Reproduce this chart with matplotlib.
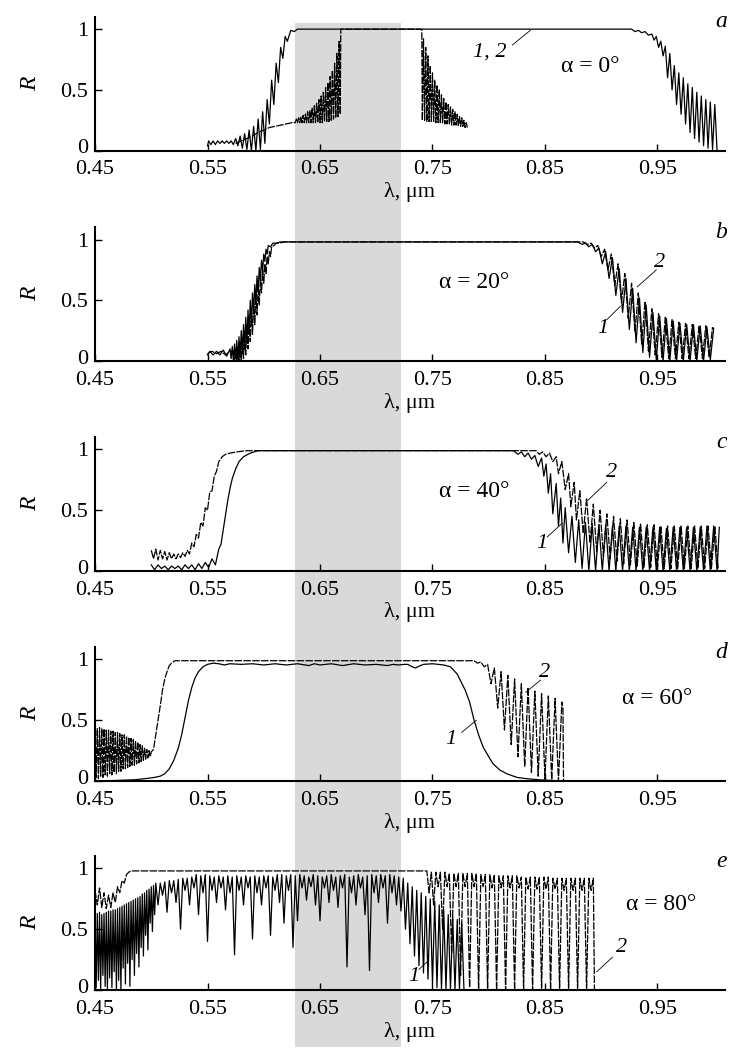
import matplotlib
matplotlib.use("Agg")
import matplotlib.pyplot as plt
import numpy as np
from matplotlib.patches import Rectangle
from matplotlib.transforms import blended_transform_factory, ScaledTranslation

plt.rcParams["font.family"] = ["Liberation Serif", "DejaVu Serif"]

# reflectance spectra, (wavelength um, R)
# curve 1 solid, curve 2 dashed
a1 = [(0.550, 0.04), (0.551, 0.08), (0.553, 0.05), (0.555, 0.08), (0.557, 0.05), (0.559, 0.08),
      (0.561, 0.06), (0.563, 0.08), (0.565, 0.06), (0.567, 0.08), (0.569, 0.06), (0.571, 0.08),
      (0.573, 0.05), (0.575, 0.10), (0.577, 0.04), (0.579, 0.12), (0.581, 0.02), (0.583, 0.14),
      (0.585, 0.01), (0.587, 0.17), (0.589, 0.00), (0.591, 0.20), (0.593, 0.00), (0.595, 0.26),
      (0.597, 0.01), (0.599, 0.32), (0.601, 0.06), (0.603, 0.42), (0.605, 0.22), (0.607, 0.58),
      (0.609, 0.38), (0.611, 0.72), (0.613, 0.56), (0.615, 0.85), (0.617, 0.76), (0.619, 0.94),
      (0.621, 0.90), (0.624, 0.99), (0.627, 0.98), (0.630, 1.00), (0.927, 1.00), (0.930, 0.98),
      (0.933, 0.99), (0.936, 0.97), (0.939, 0.98), (0.942, 0.95), (0.945, 0.96), (0.947, 0.91),
      (0.949, 0.94), (0.951, 0.85), (0.953, 0.90), (0.955, 0.78), (0.957, 0.86), (0.959, 0.60),
      (0.961, 0.80), (0.963, 0.50), (0.965, 0.70), (0.967, 0.38), (0.969, 0.64), (0.971, 0.30),
      (0.973, 0.60), (0.975, 0.22), (0.977, 0.55), (0.979, 0.15), (0.981, 0.52), (0.983, 0.10),
      (0.985, 0.48), (0.987, 0.07), (0.989, 0.45), (0.991, 0.04), (0.993, 0.42), (0.995, 0.02),
      (0.997, 0.40), (0.999, 0.01), (1.001, 0.38), (1.003, 0.00)]
a2 = [(0.575, 0.06), (0.580, 0.08), (0.585, 0.10), (0.590, 0.12), (0.595, 0.15), (0.600, 0.17),
      (0.605, 0.19), (0.610, 0.20), (0.615, 0.21), (0.620, 0.22), (0.625, 0.23), (0.628, 0.23),
      (0.629, 0.26), (0.630, 0.23), (0.631, 0.27), (0.632, 0.23), (0.633, 0.28), (0.634, 0.23),
      (0.635, 0.29), (0.636, 0.23), (0.637, 0.30), (0.638, 0.23), (0.639, 0.32), (0.640, 0.23),
      (0.641, 0.33), (0.642, 0.23), (0.643, 0.35), (0.644, 0.23), (0.645, 0.37), (0.646, 0.23),
      (0.647, 0.39), (0.648, 0.23), (0.649, 0.42), (0.650, 0.23), (0.651, 0.45), (0.652, 0.23),
      (0.653, 0.48), (0.654, 0.24), (0.655, 0.52), (0.656, 0.24), (0.657, 0.56), (0.658, 0.24),
      (0.659, 0.61), (0.660, 0.25), (0.661, 0.66), (0.662, 0.26), (0.663, 0.72), (0.664, 0.27),
      (0.665, 0.80), (0.666, 0.28), (0.667, 0.90), (0.668, 0.30), (0.6685, 1.00), (0.7405, 1.00),
      (0.741, 0.25), (0.742, 0.92), (0.743, 0.25), (0.744, 0.85), (0.745, 0.24), (0.746, 0.78),
      (0.747, 0.24), (0.748, 0.70), (0.749, 0.24), (0.750, 0.64), (0.751, 0.24), (0.752, 0.58),
      (0.753, 0.23), (0.754, 0.54), (0.755, 0.23), (0.756, 0.50), (0.757, 0.23), (0.758, 0.46),
      (0.759, 0.23), (0.760, 0.43), (0.761, 0.22), (0.762, 0.40), (0.763, 0.22), (0.764, 0.38),
      (0.765, 0.22), (0.766, 0.36), (0.767, 0.21), (0.768, 0.34), (0.769, 0.21), (0.770, 0.32),
      (0.771, 0.21), (0.772, 0.30), (0.773, 0.20), (0.774, 0.28), (0.775, 0.20), (0.776, 0.27),
      (0.777, 0.20), (0.778, 0.25), (0.779, 0.19), (0.780, 0.23), (0.781, 0.19)]

b1 = [(0.550, 0.05), (0.552, 0.08), (0.555, 0.05), (0.558, 0.08), (0.561, 0.05), (0.564, 0.09),
      (0.567, 0.04), (0.570, 0.10), (0.571, 0.02), (0.572, 0.12), (0.573, 0.00), (0.574, 0.14),
      (0.575, 0.02), (0.576, 0.17), (0.577, 0.00), (0.578, 0.20), (0.579, 0.03), (0.580, 0.25),
      (0.581, 0.06), (0.582, 0.30), (0.583, 0.10), (0.584, 0.36), (0.585, 0.15), (0.586, 0.42),
      (0.587, 0.22), (0.588, 0.50), (0.589, 0.30), (0.590, 0.56), (0.591, 0.40), (0.592, 0.63),
      (0.593, 0.48), (0.594, 0.70), (0.595, 0.58), (0.596, 0.77), (0.597, 0.66), (0.598, 0.83),
      (0.599, 0.74), (0.600, 0.88), (0.601, 0.82), (0.602, 0.92), (0.603, 0.88), (0.604, 0.95),
      (0.606, 0.94), (0.608, 0.97), (0.611, 0.97), (0.615, 0.98), (0.879, 0.98), (0.883, 0.96),
      (0.886, 0.97), (0.889, 0.94), (0.892, 0.96), (0.895, 0.90), (0.898, 0.93), (0.901, 0.80),
      (0.904, 0.90), (0.907, 0.68), (0.910, 0.85), (0.913, 0.54), (0.916, 0.76), (0.919, 0.40),
      (0.922, 0.68), (0.925, 0.26), (0.928, 0.60), (0.931, 0.15), (0.934, 0.52), (0.937, 0.07),
      (0.940, 0.46), (0.943, 0.03), (0.946, 0.40), (0.949, 0.01), (0.952, 0.37), (0.955, 0.00),
      (0.958, 0.35), (0.961, 0.00), (0.964, 0.33), (0.967, 0.00), (0.970, 0.31), (0.973, 0.00),
      (0.976, 0.30), (0.979, 0.00), (0.982, 0.30), (0.985, 0.00), (0.988, 0.29), (0.991, 0.00),
      (0.994, 0.28), (0.997, 0.01), (1.000, 0.27)]
b2 = [(0.550, 0.06), (0.554, 0.08), (0.558, 0.06), (0.562, 0.08), (0.566, 0.05), (0.570, 0.08),
      (0.573, 0.08), (0.574, 0.00), (0.575, 0.10), (0.576, 0.00), (0.577, 0.12), (0.578, 0.00),
      (0.579, 0.15), (0.580, 0.00), (0.581, 0.19), (0.582, 0.02), (0.583, 0.24), (0.584, 0.05),
      (0.585, 0.30), (0.586, 0.10), (0.587, 0.35), (0.588, 0.16), (0.589, 0.42), (0.590, 0.22),
      (0.591, 0.48), (0.592, 0.30), (0.593, 0.55), (0.594, 0.38), (0.595, 0.62), (0.596, 0.46),
      (0.597, 0.68), (0.598, 0.56), (0.599, 0.75), (0.600, 0.64), (0.601, 0.80), (0.602, 0.72),
      (0.603, 0.86), (0.604, 0.80), (0.605, 0.90), (0.606, 0.86), (0.607, 0.94), (0.609, 0.95),
      (0.611, 0.97), (0.614, 0.97), (0.618, 0.98), (0.884, 0.98), (0.888, 0.96), (0.891, 0.97),
      (0.894, 0.93), (0.897, 0.95), (0.900, 0.86), (0.903, 0.92), (0.906, 0.75), (0.909, 0.88),
      (0.912, 0.62), (0.915, 0.80), (0.918, 0.48), (0.921, 0.72), (0.924, 0.35), (0.927, 0.64),
      (0.930, 0.24), (0.933, 0.56), (0.936, 0.14), (0.939, 0.49), (0.942, 0.08), (0.945, 0.43),
      (0.948, 0.05), (0.951, 0.39), (0.954, 0.03), (0.957, 0.36), (0.960, 0.02), (0.963, 0.34),
      (0.966, 0.02), (0.969, 0.32), (0.972, 0.02), (0.975, 0.31), (0.978, 0.02), (0.981, 0.30),
      (0.984, 0.02), (0.987, 0.29), (0.990, 0.02), (0.993, 0.29), (0.996, 0.03), (0.999, 0.28)]

c1 = [(0.500, 0.05), (0.503, 0.01), (0.506, 0.05), (0.509, 0.02), (0.512, 0.04), (0.515, 0.01),
      (0.518, 0.04), (0.521, 0.02), (0.524, 0.04), (0.527, 0.01), (0.530, 0.05), (0.533, 0.02),
      (0.536, 0.05), (0.539, 0.01), (0.542, 0.06), (0.545, 0.02), (0.548, 0.07), (0.551, 0.03),
      (0.554, 0.10), (0.557, 0.05), (0.560, 0.18), (0.562, 0.22), (0.564, 0.34), (0.566, 0.46),
      (0.568, 0.58), (0.570, 0.68), (0.572, 0.76), (0.575, 0.84), (0.578, 0.90), (0.582, 0.94),
      (0.588, 0.97), (0.595, 0.99), (0.822, 0.99), (0.826, 0.96), (0.829, 0.98), (0.832, 0.94),
      (0.835, 0.97), (0.838, 0.92), (0.841, 0.95), (0.844, 0.86), (0.847, 0.93), (0.849, 0.78),
      (0.851, 0.88), (0.853, 0.64), (0.855, 0.80), (0.857, 0.47), (0.860, 0.72), (0.862, 0.37),
      (0.864, 0.60), (0.866, 0.23), (0.868, 0.52), (0.871, 0.15), (0.874, 0.45), (0.877, 0.07),
      (0.880, 0.42), (0.883, 0.02), (0.886, 0.40), (0.889, 0.00), (0.892, 0.39), (0.895, 0.00),
      (0.898, 0.38), (0.901, 0.00), (0.904, 0.38), (0.907, 0.00), (0.910, 0.37), (0.913, 0.00),
      (0.916, 0.37), (0.919, 0.00), (0.922, 0.37), (0.925, 0.00), (0.928, 0.36), (0.931, 0.00),
      (0.934, 0.36), (0.937, 0.00), (0.940, 0.36), (0.943, 0.00), (0.946, 0.36), (0.949, 0.00),
      (0.952, 0.36), (0.955, 0.00), (0.958, 0.35), (0.961, 0.00), (0.964, 0.36), (0.967, 0.00),
      (0.970, 0.36), (0.973, 0.00), (0.976, 0.36), (0.979, 0.00), (0.982, 0.36), (0.985, 0.00),
      (0.988, 0.36), (0.991, 0.00), (0.994, 0.37), (0.997, 0.00), (1.000, 0.37), (1.003, 0.00),
      (1.005, 0.36)]
c2 = [(0.500, 0.17), (0.502, 0.10), (0.504, 0.18), (0.506, 0.09), (0.508, 0.17), (0.510, 0.10),
      (0.512, 0.16), (0.514, 0.09), (0.516, 0.15), (0.518, 0.10), (0.520, 0.14), (0.522, 0.10),
      (0.524, 0.14), (0.526, 0.11), (0.528, 0.15), (0.530, 0.12), (0.532, 0.17), (0.534, 0.14),
      (0.536, 0.23), (0.538, 0.20), (0.540, 0.30), (0.542, 0.27), (0.544, 0.40), (0.546, 0.37),
      (0.548, 0.52), (0.550, 0.50), (0.552, 0.65), (0.554, 0.66), (0.556, 0.78), (0.558, 0.82),
      (0.560, 0.90), (0.563, 0.94), (0.566, 0.96), (0.570, 0.97), (0.576, 0.98), (0.585, 0.99),
      (0.842, 0.99), (0.845, 0.96), (0.848, 0.98), (0.851, 0.94), (0.854, 0.97), (0.857, 0.90),
      (0.860, 0.94), (0.862, 0.80), (0.865, 0.90), (0.868, 0.67), (0.871, 0.80), (0.873, 0.53),
      (0.876, 0.73), (0.878, 0.42), (0.881, 0.66), (0.884, 0.31), (0.887, 0.60), (0.890, 0.23),
      (0.893, 0.55), (0.896, 0.16), (0.899, 0.50), (0.902, 0.12), (0.905, 0.47), (0.908, 0.10),
      (0.911, 0.45), (0.914, 0.08), (0.917, 0.43), (0.920, 0.06), (0.923, 0.42), (0.926, 0.05),
      (0.929, 0.40), (0.932, 0.04), (0.935, 0.39), (0.938, 0.03), (0.941, 0.38), (0.944, 0.03),
      (0.947, 0.38), (0.950, 0.02), (0.953, 0.37), (0.956, 0.02), (0.959, 0.37), (0.962, 0.02),
      (0.965, 0.37), (0.968, 0.02), (0.971, 0.37), (0.974, 0.02), (0.977, 0.37), (0.980, 0.02),
      (0.983, 0.37), (0.986, 0.02), (0.989, 0.37), (0.992, 0.02), (0.995, 0.37), (0.998, 0.02),
      (1.001, 0.37), (1.004, 0.02)]

d1 = [(0.450, 0.00), (0.470, 0.005), (0.485, 0.01), (0.495, 0.02), (0.503, 0.03), (0.508, 0.04),
      (0.512, 0.06), (0.516, 0.10), (0.520, 0.17), (0.524, 0.27), (0.527, 0.38), (0.530, 0.52),
      (0.533, 0.66), (0.536, 0.77), (0.539, 0.85), (0.542, 0.90), (0.546, 0.94), (0.550, 0.96),
      (0.555, 0.97), (0.560, 0.965), (0.565, 0.955), (0.570, 0.965), (0.580, 0.96), (0.590, 0.965),
      (0.600, 0.955), (0.610, 0.965), (0.620, 0.955), (0.630, 0.965), (0.640, 0.95), (0.645, 0.965),
      (0.650, 0.955), (0.660, 0.965), (0.670, 0.95), (0.680, 0.965), (0.690, 0.955), (0.700, 0.96),
      (0.710, 0.95), (0.715, 0.96), (0.720, 0.955), (0.725, 0.96), (0.728, 0.96), (0.732, 0.94),
      (0.735, 0.93), (0.738, 0.945), (0.742, 0.96), (0.750, 0.965), (0.755, 0.96), (0.760, 0.955),
      (0.766, 0.94), (0.772, 0.88), (0.779, 0.75), (0.783, 0.65), (0.787, 0.50), (0.791, 0.38),
      (0.795, 0.28), (0.800, 0.20), (0.804, 0.14), (0.810, 0.09), (0.816, 0.06), (0.825, 0.03),
      (0.833, 0.02), (0.845, 0.01), (0.866, 0.00)]
d2 = [(0.450, 0.42), (0.451, 0.03), (0.452, 0.43), (0.453, 0.02), (0.454, 0.44), (0.455, 0.04),
      (0.456, 0.43), (0.457, 0.03), (0.458, 0.43), (0.459, 0.05), (0.460, 0.42), (0.461, 0.04),
      (0.462, 0.42), (0.463, 0.06), (0.464, 0.41), (0.465, 0.05), (0.466, 0.41), (0.467, 0.07),
      (0.468, 0.40), (0.469, 0.06), (0.470, 0.40), (0.471, 0.08), (0.472, 0.39), (0.473, 0.08),
      (0.474, 0.38), (0.475, 0.10), (0.476, 0.38), (0.477, 0.10), (0.478, 0.37), (0.479, 0.11),
      (0.480, 0.36), (0.481, 0.12), (0.482, 0.35), (0.483, 0.13), (0.484, 0.34), (0.485, 0.13),
      (0.486, 0.33), (0.487, 0.14), (0.488, 0.32), (0.489, 0.15), (0.490, 0.30), (0.491, 0.16),
      (0.492, 0.29), (0.493, 0.17), (0.494, 0.27), (0.495, 0.18), (0.496, 0.26), (0.497, 0.19),
      (0.498, 0.25), (0.499, 0.20), (0.500, 0.24), (0.502, 0.26), (0.504, 0.38), (0.506, 0.50),
      (0.508, 0.62), (0.510, 0.75), (0.512, 0.84), (0.514, 0.90), (0.516, 0.95), (0.518, 0.97),
      (0.521, 0.99), (0.787, 0.99), (0.790, 0.97), (0.793, 0.98), (0.796, 0.94), (0.799, 0.96),
      (0.802, 0.80), (0.805, 0.93), (0.808, 0.60), (0.811, 0.90), (0.814, 0.42), (0.817, 0.87),
      (0.820, 0.30), (0.823, 0.84), (0.826, 0.20), (0.829, 0.80), (0.832, 0.12), (0.835, 0.77),
      (0.838, 0.07), (0.841, 0.74), (0.844, 0.04), (0.847, 0.72), (0.850, 0.02), (0.853, 0.70),
      (0.856, 0.01), (0.859, 0.68), (0.862, 0.00), (0.865, 0.65), (0.866, 0.60), (0.8665, 0.00)]

e1 = [(0.450, 0.62), (0.451, 0.02), (0.452, 0.63), (0.453, 0.08), (0.454, 0.64), (0.455, 0.00),
      (0.456, 0.62), (0.457, 0.12), (0.458, 0.63), (0.459, 0.03), (0.460, 0.64), (0.461, 0.00),
      (0.462, 0.65), (0.463, 0.10), (0.464, 0.65), (0.465, 0.02), (0.466, 0.66), (0.467, 0.15),
      (0.468, 0.66), (0.469, 0.00), (0.470, 0.67), (0.471, 0.08), (0.472, 0.68), (0.473, 0.00),
      (0.474, 0.69), (0.475, 0.18), (0.476, 0.70), (0.477, 0.05), (0.478, 0.71), (0.479, 0.22),
      (0.480, 0.72), (0.481, 0.03), (0.482, 0.73), (0.483, 0.25), (0.484, 0.74), (0.485, 0.12),
      (0.486, 0.75), (0.487, 0.30), (0.488, 0.76), (0.489, 0.19), (0.490, 0.77), (0.491, 0.35),
      (0.492, 0.79), (0.493, 0.28), (0.494, 0.80), (0.495, 0.45), (0.496, 0.82), (0.497, 0.33),
      (0.498, 0.83), (0.499, 0.55), (0.500, 0.85), (0.501, 0.48), (0.502, 0.86), (0.503, 0.62),
      (0.504, 0.88), (0.506, 0.70), (0.508, 0.88), (0.510, 0.78), (0.512, 0.89), (0.514, 0.64),
      (0.516, 0.90), (0.518, 0.80), (0.520, 0.90), (0.522, 0.72), (0.524, 0.91), (0.526, 0.50),
      (0.528, 0.92), (0.530, 0.82), (0.532, 0.92), (0.534, 0.70), (0.536, 0.93), (0.538, 0.84),
      (0.540, 0.95), (0.542, 0.62), (0.544, 0.94), (0.546, 0.80), (0.548, 0.95), (0.550, 0.40),
      (0.552, 0.94), (0.554, 0.82), (0.556, 0.93), (0.558, 0.72), (0.560, 0.94), (0.562, 0.84),
      (0.564, 0.93), (0.566, 0.66), (0.568, 0.94), (0.570, 0.80), (0.572, 0.93), (0.574, 0.29),
      (0.576, 0.94), (0.578, 0.82), (0.580, 0.93), (0.582, 0.70), (0.584, 0.94), (0.586, 0.84),
      (0.588, 0.93), (0.590, 0.42), (0.592, 0.94), (0.594, 0.80), (0.596, 0.93), (0.598, 0.70),
      (0.600, 0.94), (0.602, 0.84), (0.604, 0.94), (0.606, 0.45), (0.608, 0.93), (0.610, 0.82),
      (0.612, 0.95), (0.614, 0.72), (0.616, 0.95), (0.618, 0.55), (0.620, 0.94), (0.622, 0.82),
      (0.624, 0.95), (0.626, 0.35), (0.628, 0.94), (0.630, 0.57), (0.632, 0.95), (0.634, 0.84),
      (0.636, 0.94), (0.638, 0.74), (0.640, 0.93), (0.642, 0.85), (0.644, 0.95), (0.646, 0.70),
      (0.648, 0.94), (0.650, 0.57), (0.652, 0.93), (0.654, 0.84), (0.656, 0.94), (0.658, 0.72),
      (0.660, 0.95), (0.662, 0.82), (0.664, 0.93), (0.666, 0.68), (0.668, 0.94), (0.670, 0.84),
      (0.672, 0.95), (0.674, 0.19), (0.676, 0.93), (0.678, 0.80), (0.680, 0.94), (0.682, 0.70),
      (0.684, 0.95), (0.686, 0.84), (0.688, 0.93), (0.690, 0.62), (0.692, 0.94), (0.694, 0.16),
      (0.696, 0.95), (0.698, 0.80), (0.700, 0.94), (0.702, 0.72), (0.704, 0.95), (0.706, 0.84),
      (0.708, 0.94), (0.710, 0.55), (0.712, 0.95), (0.714, 0.80), (0.716, 0.94), (0.718, 0.70),
      (0.720, 0.93), (0.722, 0.65), (0.724, 0.92), (0.726, 0.50), (0.728, 0.88), (0.730, 0.38),
      (0.732, 0.85), (0.734, 0.28), (0.736, 0.82), (0.738, 0.20), (0.740, 0.80), (0.742, 0.14),
      (0.744, 0.77), (0.746, 0.09), (0.748, 0.75), (0.750, 0.05), (0.752, 0.73), (0.754, 0.02),
      (0.756, 0.70), (0.758, 0.00), (0.760, 0.66), (0.762, 0.00), (0.764, 0.62), (0.766, 0.00),
      (0.768, 0.60), (0.770, 0.00), (0.772, 0.58), (0.774, 0.00), (0.776, 0.55), (0.778, 0.00)]
e2 = [(0.450, 0.82), (0.452, 0.70), (0.454, 0.84), (0.456, 0.68), (0.458, 0.80), (0.460, 0.67),
      (0.462, 0.78), (0.464, 0.68), (0.466, 0.80), (0.468, 0.72), (0.470, 0.85), (0.472, 0.80),
      (0.474, 0.90), (0.476, 0.88), (0.478, 0.95), (0.480, 0.97), (0.482, 0.98), (0.745, 0.98),
      (0.747, 0.80), (0.749, 0.97), (0.751, 0.70), (0.753, 0.97), (0.755, 0.85), (0.757, 0.97),
      (0.759, 0.50), (0.761, 0.97), (0.763, 0.85), (0.765, 0.96), (0.767, 0.30), (0.769, 0.96),
      (0.771, 0.85), (0.773, 0.96), (0.775, 0.12), (0.777, 0.96), (0.779, 0.85), (0.781, 0.96),
      (0.783, 0.02), (0.785, 0.96), (0.787, 0.85), (0.789, 0.96), (0.791, 0.00), (0.793, 0.95),
      (0.795, 0.85), (0.797, 0.95), (0.799, 0.00), (0.801, 0.95), (0.803, 0.84), (0.805, 0.95),
      (0.807, 0.00), (0.809, 0.94), (0.811, 0.84), (0.813, 0.94), (0.815, 0.00), (0.817, 0.94),
      (0.819, 0.84), (0.821, 0.94), (0.823, 0.00), (0.825, 0.94), (0.827, 0.84), (0.829, 0.93),
      (0.831, 0.00), (0.833, 0.93), (0.835, 0.83), (0.837, 0.93), (0.839, 0.00), (0.841, 0.93),
      (0.843, 0.83), (0.845, 0.93), (0.847, 0.00), (0.849, 0.93), (0.851, 0.83), (0.853, 0.93),
      (0.855, 0.00), (0.857, 0.92), (0.859, 0.83), (0.861, 0.92), (0.863, 0.00), (0.865, 0.92),
      (0.867, 0.82), (0.869, 0.92), (0.871, 0.00), (0.873, 0.92), (0.875, 0.82), (0.877, 0.92),
      (0.879, 0.00), (0.881, 0.92), (0.883, 0.82), (0.885, 0.92), (0.887, 0.00), (0.889, 0.92),
      (0.891, 0.82), (0.893, 0.92), (0.894, 0.00)]

angles = [0, 20, 40, 60, 80]
letters = ["a", "b", "c", "d", "e"]
xticks = [0.45, 0.55, 0.65, 0.75, 0.85, 0.95]
xtick_labels = ["0.45", "0.55", "0.65", "0.75", "0.85", "0.95"]
yticks = [0, 0.5, 1]
ytick_labels = ["0", "0.5", "1"]
band = (0.628, 0.722)  # shaded wavelength window

solid = [a1, b1, c1, d1, e1]
dashed = [a2, b2, c2, d2, e2]
alpha_pos = [(0.890, 0.69), (0.787, 0.65), (0.787, 0.65), (0.950, 0.68), (0.953, 0.70)]
# curve labels: (text, text pos, leader start, leader end)
curve_labels = [
    [("1, 2", (0.801, 0.81), (0.821, 0.87), (0.837, 0.99))],
    [("2", (0.952, 0.81), (0.949, 0.75), (0.932, 0.61)),
     ("1", (0.901, 0.27), (0.905, 0.34), (0.917, 0.45))],
    [("2", (0.909, 0.81), (0.905, 0.73), (0.888, 0.58)),
     ("1", (0.847, 0.23), (0.852, 0.28), (0.865, 0.39))],
    [("2", (0.850, 0.89), (0.846, 0.83), (0.833, 0.73)),
     ("1", (0.766, 0.34), (0.776, 0.40), (0.789, 0.50))],
    [("1", (0.733, 0.11), (0.738, 0.17), (0.745, 0.23)),
     ("2", (0.918, 0.35), (0.910, 0.27), (0.896, 0.15))],
]

fig = plt.figure(figsize=(7.35, 10.55), dpi=100)
bottoms = [0.8572, 0.6578, 0.4588, 0.2597, 0.0616]
axes = []
for i, b in enumerate(bottoms):
    ax = fig.add_axes([0.1293, b, 0.857, 0.1267])
    ax.set_facecolor("none")
    s = np.array(solid[i])
    d = np.array(dashed[i])
    ax.plot(d[:, 0], d[:, 1], color="k", lw=0.9, ls=(0, (6, 1.1)))
    ax.plot(s[:, 0], s[:, 1], color="k", lw=0.9)

    ax.set_xlim(0.45, 1.01)
    ax.set_ylim(0, 1.1)
    ax.spines["top"].set_visible(False)
    ax.spines["right"].set_visible(False)
    ax.spines["left"].set_linewidth(1.5)
    ax.spines["bottom"].set_linewidth(1.5)
    ax.set_xticks(xticks)
    ax.set_xticklabels(xtick_labels)
    ax.set_yticks(yticks)
    ax.set_yticklabels(ytick_labels)
    ax.tick_params(direction="in", length=5, width=1, labelsize=16)
    ax.tick_params(axis="x", pad=7)
    ax.tick_params(axis="y", pad=5)
    # lift the "0" a little so it clears "0.45"
    lab0 = ax.get_yticklabels()[0]
    lab0.set_transform(lab0.get_transform() + ScaledTranslation(0, 3 / 72, fig.dpi_scale_trans))
    ax.set_xlabel("λ, μm", fontsize=16, labelpad=2)
    ax.set_ylabel("R", fontsize=17, style="italic", labelpad=14)

    ax.text(1.007, 1.06, letters[i], fontsize=17, style="italic",
            ha="center", va="center", clip_on=False)
    ax.text(alpha_pos[i][0], alpha_pos[i][1], "α = %d°" % angles[i], fontsize=17,
            ha="center", va="center")
    for txt, tp, p0, p1 in curve_labels[i]:
        ax.text(tp[0], tp[1], txt, fontsize=16, style="italic", ha="center", va="center")
        ax.plot([p0[0], p1[0]], [p0[1], p1[1]], color="k", lw=0.6)
    axes.append(ax)

# grey window spans all panels
tr = blended_transform_factory(axes[0].transData, fig.transFigure)
fig.add_artist(Rectangle((band[0], 0.0076), band[1] - band[0], 0.978 - 0.0076,
                         transform=tr, facecolor="#d9d9d9", edgecolor="none", zorder=-1))

fig.savefig("out.png", dpi=100)
